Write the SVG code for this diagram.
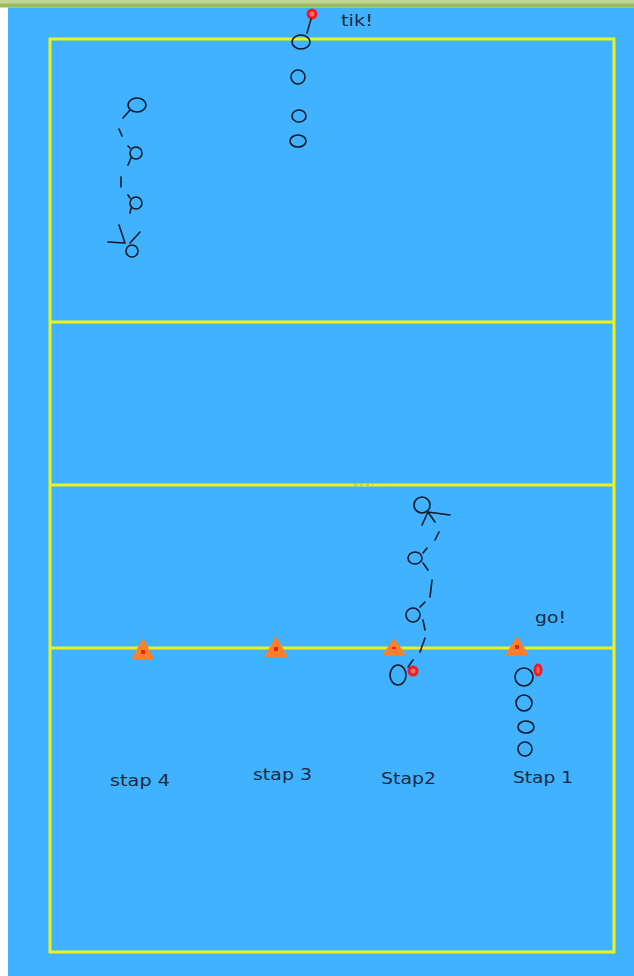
<svg xmlns="http://www.w3.org/2000/svg" width="634" height="976" viewBox="0 0 634 976">
<style>
.line{stroke:#eef21c;stroke-width:3;fill:none}
.p{fill:none;stroke:#0d1a26;stroke-width:1.6}
.t{stroke:#0d1a26;stroke-width:1.6;fill:none;stroke-linecap:round}
.ball{fill:#ff6a6a;stroke:#ee1c24;stroke-width:3}
.cone{fill:#ff7f27;stroke:#ff7f27;stroke-width:2;stroke-linejoin:round}
.mark{fill:#e2261e}
.lbl{font-family:"DejaVu Sans",Verdana,sans-serif;font-size:16.5px;fill:#1b2a3c}
</style>
<rect x="0" y="0" width="634" height="976" fill="#ffffff"/>
<rect x="0" y="0" width="634" height="4" fill="#c4d79b"/>
<rect x="0" y="3.5" width="634" height="4" fill="#9bbb59"/>
<rect x="8" y="7.5" width="626" height="968.5" fill="#40b2ff"/>
<g id="court">
<rect class="line" x="50" y="39" width="564" height="913"/>
<line class="line" x1="50" y1="322" x2="614" y2="322"/>
<line class="line" x1="50" y1="485" x2="614" y2="485"/>
<line class="line" x1="50" y1="648" x2="614" y2="648"/>
<line x1="354" y1="485" x2="373" y2="485" stroke="#7a8a70" stroke-width="1" stroke-dasharray="3,3" opacity="0.6"/>
</g>
<g id="cones">
<g id="cone4"><path class="cone" d="M143 640 L153 659 L133 659 Z"/><rect class="mark" x="141" y="650" width="4" height="4"/></g>
<g id="cone3"><path class="cone" d="M276 638 L286 656 L266 656 Z"/><rect class="mark" x="274" y="647" width="4" height="4"/></g>
<g id="cone2"><path class="cone" d="M394 640 L404 654 L384 654 Z"/><rect class="mark" x="392" y="647" width="4" height="2"/></g>
<g id="cone1"><path class="cone" d="M517 638 L527 654 L507 654 Z"/><rect class="mark" x="515" y="645" width="4" height="4"/></g>
</g>
<g id="team-top">
<ellipse class="ball" cx="312" cy="14" rx="4" ry="4"/>
<ellipse class="p" cx="301" cy="42" rx="9" ry="7"/>
<ellipse class="p" cx="298" cy="77" rx="7" ry="7"/>
<ellipse class="p" cx="299" cy="116" rx="7" ry="6"/>
<ellipse class="p" cx="298" cy="141" rx="8" ry="6"/>
</g>
<g id="runner-left">
<ellipse class="p" cx="137" cy="105" rx="9" ry="7"/>
<ellipse class="p" cx="136" cy="153" rx="6" ry="6"/>
<ellipse class="p" cx="136" cy="203" rx="6" ry="6"/>
<ellipse class="p" cx="132" cy="251" rx="6" ry="6"/>
</g>
<g id="runner-mid">
<ellipse class="p" cx="422" cy="505" rx="8" ry="8"/>
<ellipse class="p" cx="415" cy="558" rx="7" ry="6"/>
<ellipse class="p" cx="413" cy="615" rx="7" ry="7"/>
<ellipse class="p" cx="398" cy="675" rx="8" ry="10"/>
<ellipse class="ball" cx="413" cy="671" rx="4" ry="4"/>
</g>
<g id="team-right">
<ellipse class="ball" cx="538" cy="670" rx="3" ry="5"/>
<ellipse class="p" cx="524" cy="677" rx="9" ry="9"/>
<ellipse class="p" cx="524" cy="703" rx="8" ry="8"/>
<ellipse class="p" cx="526" cy="727" rx="8" ry="6"/>
<ellipse class="p" cx="525" cy="749" rx="7" ry="7"/>
</g>
<g id="connectors">
<path class="t" d="M311 19 L307 33"/>
<path class="t" d="M130 110 L123 118 M119 129 L122 136 M130 148 L128 146 M131 158 L128 165 M121 177 L121 187 M130 198 L128 195 M131 208 L130 213 M119 225 L125 243 M140 232 L130 243 M108 242 L125 243"/>
<path class="t" d="M428 512 L422 525 M428 512 L435 522 M428 512 L450 515 M439 532 L435 540 M423 553 L427 548 M423 563 L428 570 M432 580 L430 597 M420 607 L425 602 M423 620 L425 630 M425 638 L420 652 M408 667 L413 660"/>
</g>
<g id="labels">
<text class="lbl" x="341" y="26" textLength="32" lengthAdjust="spacingAndGlyphs">tik!</text>
<text class="lbl" x="535" y="623" textLength="31" lengthAdjust="spacingAndGlyphs">go!</text>
<text class="lbl" x="110" y="786" textLength="60" lengthAdjust="spacingAndGlyphs">stap 4</text>
<text class="lbl" x="253" y="780" textLength="59" lengthAdjust="spacingAndGlyphs">stap 3</text>
<text class="lbl" x="381" y="784" textLength="55" lengthAdjust="spacingAndGlyphs">Stap2</text>
<text class="lbl" x="513" y="783" textLength="60" lengthAdjust="spacingAndGlyphs">Stap 1</text>
</g>
</svg>
